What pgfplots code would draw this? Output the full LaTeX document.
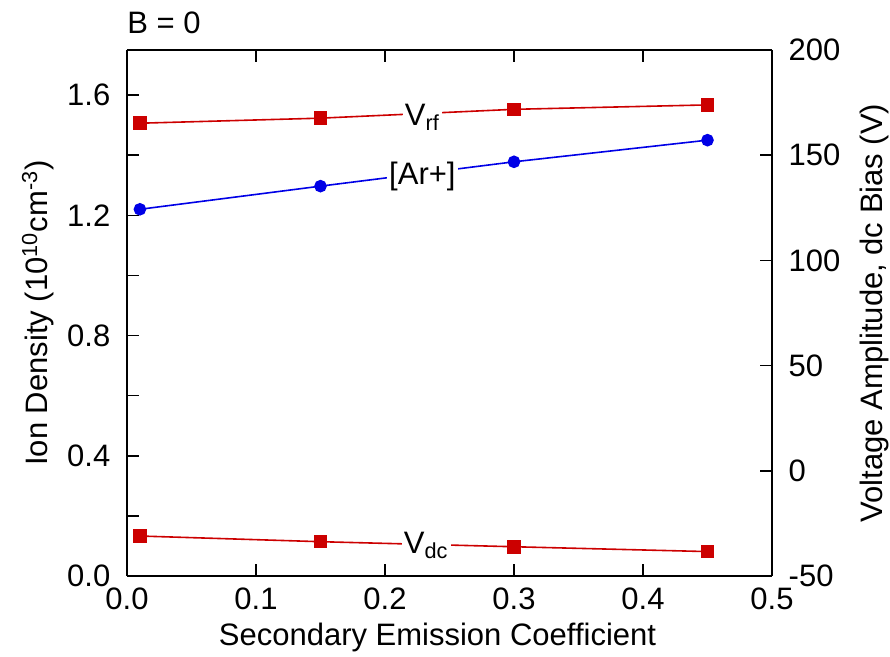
\documentclass[border=0pt]{standalone}
\usepackage{fontspec}
\setmainfont{Liberation Sans}
\usepackage{pgfplots}
\pgfplotsset{compat=1.18}
\definecolor{vred}{RGB}{204,0,0}
\definecolor{arblue}{RGB}{0,0,230}
\newcommand{\chartfont}{\fontsize{15.5}{18.6}\selectfont}
\begin{document}
\chartfont
\begin{tikzpicture}[font=\chartfont]
\pgfplotsset{
  every axis/.append style={
    scale only axis, width=322.5pt, height=263pt,
    at={(0,0)}, anchor=south west,
    xmin=0, xmax=0.5,
    tick align=inside,
    axis line style={line width=0.75pt},
    every tick/.style={black, line width=0.75pt},
    major tick length=6pt,
    /pgf/number format/assume math mode=true,
    tick label style={font=\chartfont},
    label style={font=\chartfont},
  }
}
\begin{axis}[
  ymin=0, ymax=1.75,
  axis y line*=left,
  axis x line*=box,
  xtick={0,0.1,0.2,0.3,0.4,0.5},
  xticklabels={0.0,0.1,0.2,0.3,0.4,0.5},
  ytick={0,0.2,0.4,0.6,0.8,1.0,1.2,1.4,1.6},
  yticklabels={0.0,,0.4,,0.8,,1.2,,1.6},
  xticklabel style={yshift=-0.5pt},
  yticklabel style={xshift=-3pt},
  xlabel={Secondary Emission Coefficient},
  ylabel={Ion Density (10\textsuperscript{10}cm\textsuperscript{-3})},
  xlabel style={yshift=4pt, xshift=-6pt},
  ylabel style={yshift=-4pt},
  clip=false,
]
\addplot[arblue, line width=0.8pt, mark=*, mark size=2.75pt, mark options={solid, fill=arblue, draw=arblue}]
  coordinates {(0.01,1.22) (0.15,1.297) (0.30,1.378) (0.45,1.45)};
\node[fill=white, inner sep=1pt] at (axis cs:0.229,1.33) {[Ar+]};
\node[anchor=south west, inner sep=0pt] at (rel axis cs:0,1) [yshift=8pt] {B = 0};
\end{axis}
\begin{axis}[
  ymin=-50, ymax=200,
  axis y line*=right,
  axis x line=none,
  ytick={0,50,100,150},
  extra y ticks={-50,200},
  extra y tick style={major tick length=0pt},
  yticklabel style={xshift=3pt},
  ylabel={Voltage Amplitude, dc Bias (V)},
  ylabel style={yshift=0.5pt},
  clip=false,
]
\addplot[vred, line width=0.8pt, mark=square*, mark size=3pt, mark options={solid, fill=vred, draw=vred}]
  coordinates {(0.01,165.2) (0.15,167.6) (0.30,171.8) (0.45,173.9)};
\addplot[vred, line width=0.8pt, mark=square*, mark size=3pt, mark options={solid, fill=vred, draw=vred}]
  coordinates {(0.01,-31.0) (0.15,-33.7) (0.30,-36.1) (0.45,-38.4)};
\node[fill=white, inner sep=1pt] at (axis cs:0.229,168) {V\textsubscript{rf}};
\node[fill=white, inner sep=1pt] at (axis cs:0.232,-35.5) {V\textsubscript{dc}};
\end{axis}
\pgfresetboundingbox
\path[use as bounding box] (-63.5pt,-40.5pt) rectangle (381.5pt,288pt);
\end{tikzpicture}
\end{document}
